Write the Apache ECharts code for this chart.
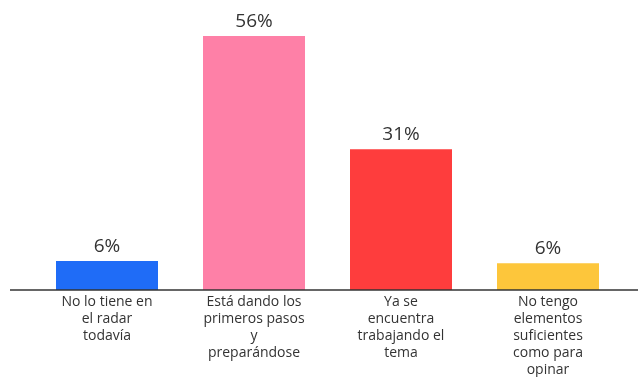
<!DOCTYPE html>
<html><head><meta charset="utf-8">
<script src="https://cdn.jsdelivr.net/npm/echarts@6/dist/echarts.min.js"></script>
<style>html,body{margin:0;padding:0;background:#fff}#c{width:638px;height:377px}</style>
</head><body><div id="c"></div>
<script>
const categories = [
  "No lo tiene en\nel radar\ntodavía",
  "Está dando los\nprimeros pasos\ny\npreparándose",
  "Ya se\nencuentra\ntrabajando el\ntema",
  "No tengo\nelementos\nsuficientes\ncomo para\nopinar"
];
const values = [6.4, 56, 31, 5.9];
const colors = ["#1f6cf7", "#fe80a7", "#fe3d3d", "#fdc63b"];

const chart = echarts.init(document.getElementById('c'));
const FONT = '"Open Sans", sans-serif';
chart.setOption({
  animation: false,
  grid: { left: 33.5, right: 16.5, top: 17.8, bottom: 87, containLabel: false, outerBoundsMode: 'none' },
  xAxis: {
    type: 'category',
    data: categories,
    axisLine: { show: false },
    axisTick: { show: false },
    axisLabel: { interval: 0, margin: 4, color: '#333', fontSize: 14, lineHeight: 17, fontFamily: FONT, verticalAlign: 'top' }
  },
  yAxis: { type: 'value', min: 0, max: 60, show: false, splitLine: { show: false } },
  series: [{
    type: 'bar',
    barWidth: 102,
    data: values.map((v, i) => ({ value: v, itemStyle: { color: colors[i] } })),
    label: { show: true, position: 'top', distance: 5, color: '#333', fontSize: 19, fontFamily: FONT,
      formatter: p => Math.round(p.value) + '%' }
  }]
});
const y0 = chart.convertToPixel({ gridIndex: 0 }, [0, 0])[1];
chart.setOption({
  graphic: [{ type: 'line', shape: { x1: 10, y1: y0, x2: 638, y2: y0 }, style: { stroke: '#333', lineWidth: 1.5 }, z: 10 }]
});
</script></body></html>
